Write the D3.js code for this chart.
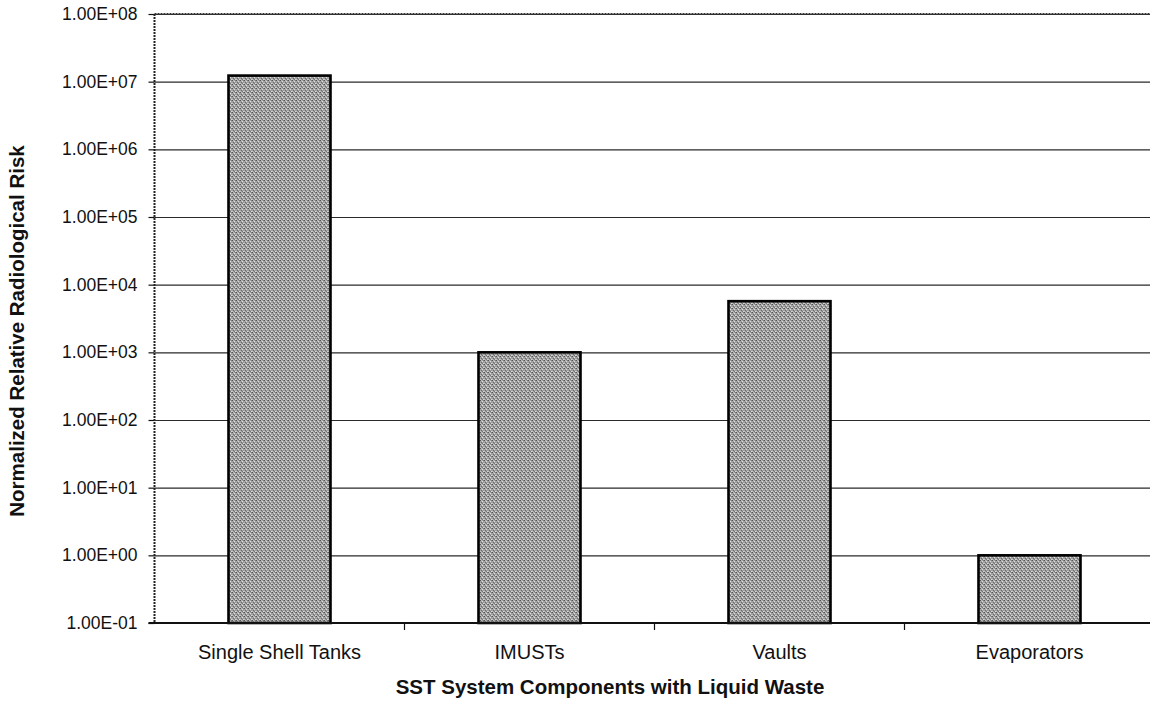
<!DOCTYPE html>
<html>
<head>
<meta charset="utf-8">
<script src="https://cdn.jsdelivr.net/npm/d3@7"></script>
<style>
  html, body { margin: 0; padding: 0; background: #fff; }
  svg { display: block; }
  text { font-family: "Liberation Sans", Arial, sans-serif; fill: #111; }
</style>
</head>
<body>
<svg id="chart" width="1150" height="703"></svg>
<script>
const categories = ["Single Shell Tanks", "IMUSTs", "Vaults", "Evaporators"];
const values = [1.23e7, 1.0e3, 5.7e3, 1.0];
const tickValues = [1e-1, 1e0, 1e1, 1e2, 1e3, 1e4, 1e5, 1e6, 1e7, 1e8];
const tickLabels = ["1.00E-01", "1.00E+00", "1.00E+01", "1.00E+02", "1.00E+03",
                    "1.00E+04", "1.00E+05", "1.00E+06", "1.00E+07", "1.00E+08"];
const xTitle = "SST System Components with Liquid Waste";
const yTitle = "Normalized Relative Radiological Risk";

(function () {
const svg = d3.select("#chart");
const pLeft = 154.5, pRight = 1154.5, pTop = 14, pBottom = 623;

const x = d3.scaleBand().domain(categories).range([pLeft, pRight])
  .paddingInner(0.592).paddingOuter(0.296);
const y = d3.scaleLog().domain([1e-1, 1e8]).range([pBottom, pTop]);

// stipple pattern for bars
const defs = svg.append("defs");
const pat = defs.append("pattern").attr("id", "stip")
  .attr("patternUnits", "userSpaceOnUse").attr("width", 4).attr("height", 4);
pat.append("rect").attr("width", 4).attr("height", 4).attr("fill", "#a0a0a0");
[[0,0,"#555"],[2,1,"#e0e0e0"],[1,2,"#6a6a6a"],[3,3,"#d6d6d6"],[3,0,"#7c7c7c"],[0,3,"#c4c4c4"],[2,3,"#747474"],[1,0,"#bcbcbc"]]
  .forEach(([px, py, c]) => pat.append("rect").attr("x", px).attr("y", py)
    .attr("width", 1).attr("height", 1).attr("fill", c));

// gridlines + y labels
const yAxis = d3.axisLeft(y).tickValues(tickValues)
  .tickFormat((d, i) => tickLabels[i])
  .tickSize(-(pRight - pLeft)).tickSizeOuter(0).tickPadding(17);
const gy = svg.append("g").attr("transform", `translate(${pLeft},0)`).call(yAxis);
gy.select(".domain").remove();
gy.selectAll(".tick line").attr("stroke", "#2a2a2a").attr("stroke-width", 1.2);
gy.selectAll(".tick text").attr("font-size", 17.5).attr("fill", "#111");
gy.selectAll(".tick").append("line").attr("x1", -6).attr("x2", 0)
  .attr("stroke", "#111").attr("stroke-width", 1.2);

// bars
svg.append("g").selectAll("rect").data(categories).join("rect")
  .attr("x", d => x(d))
  .attr("width", x.bandwidth())
  .attr("y", (d, i) => y(values[i]))
  .attr("height", (d, i) => pBottom - y(values[i]))
  .attr("fill", "url(#stip)")
  .attr("stroke", "#000").attr("stroke-width", 2.6);

// axes lines
svg.append("line").attr("x1", pLeft).attr("x2", pLeft).attr("y1", pTop).attr("y2", pBottom)
  .attr("stroke", "#222").attr("stroke-width", 2).attr("stroke-dasharray", "2,1");
svg.append("line").attr("x1", pLeft).attr("x2", 1150).attr("y1", pTop).attr("y2", pTop)
  .attr("stroke", "#333").attr("stroke-width", 2).attr("stroke-dasharray", "2,1");

const xAxis = d3.axisBottom(x).tickSize(0).tickPadding(22);
const gx = svg.append("g").attr("transform", `translate(0,${pBottom})`).call(xAxis);
gx.select(".domain").remove();
gx.selectAll(".tick text").attr("font-size", 20).attr("fill", "#111");
svg.append("line").attr("x1", pLeft - 6).attr("x2", 1150).attr("y1", pBottom).attr("y2", pBottom)
  .attr("stroke", "#111").attr("stroke-width", 1.8);
const bounds = d3.range(1, categories.length).map(i => x.range()[0] + i * x.step());
svg.append("g").selectAll("line").data(bounds).join("line")
  .attr("x1", d => d).attr("x2", d => d).attr("y1", pBottom).attr("y2", pBottom + 7)
  .attr("stroke", "#111").attr("stroke-width", 1.2);

// titles
svg.append("text").attr("x", 610).attr("y", 694).attr("text-anchor", "middle")
  .attr("font-size", 20.5).attr("font-weight", "bold").text(xTitle);
svg.append("text").attr("transform", "translate(24,331) rotate(-90)")
  .attr("text-anchor", "middle").attr("font-size", 20.5).attr("font-weight", "bold").text(yTitle);
})();
</script>
</body>
</html>
